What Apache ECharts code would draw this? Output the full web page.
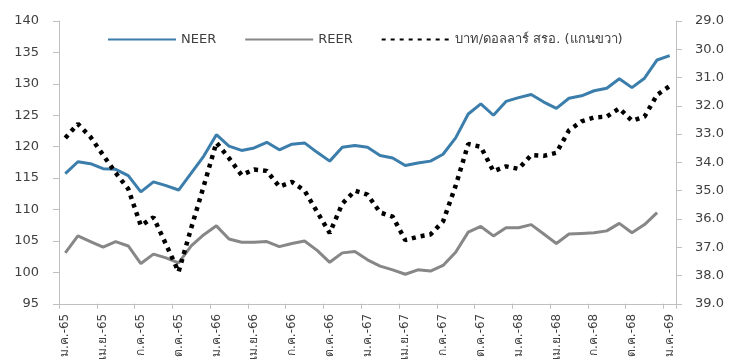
<!DOCTYPE html>
<html>
<head>
<meta charset="utf-8">
<script src="https://cdn.jsdelivr.net/npm/echarts@6/dist/echarts.min.js"></script>
<style>
  html, body { margin: 0; padding: 0; background: #ffffff; }
  #chart { width: 742px; height: 363px; }
</style>
</head>
<body>
<div id="chart"></div>
<script>
// Monthly labels, Jan 2565 .. Jan 2569 (Thai Buddhist years)
const monthNames = ['ม.ค.', 'ก.พ.', 'มี.ค.', 'เม.ย.', 'พ.ค.', 'มิ.ย.', 'ก.ค.', 'ส.ค.', 'ก.ย.', 'ต.ค.', 'พ.ย.', 'ธ.ค.'];
const years = ['65', '66', '67', '68', '69'];
const categories = [];
years.forEach(function (y, yi) {
  monthNames.forEach(function (m, mi) {
    if (yi < 4 || mi === 0) categories.push(m + '-' + y);
  });
});

// Nominal effective exchange rate index (left axis)
const neer = [115.7, 117.6, 117.3, 116.5, 116.4, 115.4, 112.8, 114.4, 113.8, 113.1, 115.8, 118.5,
              121.9, 120.1, 119.4, 119.8, 120.7, 119.5, 120.4, 120.6, 119.1, 117.7, 119.9, 120.2,
              119.9, 118.6, 118.2, 117.0, 117.4, 117.7, 118.8, 121.4, 125.2, 126.8, 125.0, 127.2,
              127.8, 128.3, 127.1, 126.1, 127.7, 128.1, 128.9, 129.3, 130.8, 129.4, 130.9, 133.8,
              134.5];

// Real effective exchange rate index (left axis)
const reer = [103.1, 105.8, 104.9, 104.0, 104.9, 104.2, 101.4, 102.9, 102.3, 101.5, 104.2, 106.0,
              107.4, 105.3, 104.8, 104.8, 104.9, 104.1, 104.6, 105.0, 103.5, 101.6, 103.1, 103.3,
              102.0, 101.0, 100.4, 99.7, 100.4, 100.2, 101.1, 103.2, 106.4, 107.3, 105.8, 107.1,
              107.1, 107.6, 106.1, 104.6, 106.1, 106.2, 106.3, 106.6, 107.8, 106.3, 107.6, 109.5];

// Baht per US dollar (right axis, inverted)
const thb = [33.14, 32.64, 33.10, 33.74, 34.37, 34.94, 36.24, 35.94, 36.90, 37.87, 36.32, 34.83,
             33.30, 33.85, 34.45, 34.25, 34.30, 34.86, 34.69, 35.00, 35.75, 36.50, 35.46, 35.00,
             35.14, 35.77, 35.92, 36.75, 36.63, 36.55, 36.09, 34.83, 33.35, 33.45, 34.31, 34.14,
             34.23, 33.74, 33.77, 33.66, 32.87, 32.55, 32.41, 32.38, 32.09, 32.53, 32.38, 31.61,
             31.30];

const leftTicks = { min: 95, max: 140, step: 5 };
const rightTicks = { min: 29, max: 39, step: 1 };

const fontFamily = '"DejaVu Sans", "Noto Sans", sans-serif';
const axisGrey = '#bfbfbf';
const textGrey = '#404040';

const chart = echarts.init(document.getElementById('chart'), null, { renderer: 'canvas' });

chart.setOption({
  animation: false,
  backgroundColor: '#ffffff',
  textStyle: { fontFamily: fontFamily },
  grid: { left: 59, right: 66, top: 21, bottom: 52, containLabel: false },
  legend: {
    left: 102,
    top: 28,
    itemWidth: 68,
    itemHeight: 14,
    itemGap: 28,
    itemStyle: { opacity: 0 },
    textStyle: { fontFamily: fontFamily, fontSize: 13, color: textGrey },
    data: ['NEER', 'REER', 'บาท/ดอลลาร์ สรอ. (แกนขวา)']
  },
  xAxis: {
    type: 'category',
    data: categories,
    boundaryGap: true,
    axisLine: { lineStyle: { color: axisGrey, width: 1 } },
    axisTick: { show: true, interval: 2, length: 5, lineStyle: { color: axisGrey } },
    axisLabel: {
      interval: 2,
      rotate: 90,
      margin: 10,
      fontSize: 12,
      color: textGrey,
      fontFamily: fontFamily
    },
    splitLine: { show: false }
  },
  yAxis: [
    {
      type: 'value',
      min: leftTicks.min,
      max: leftTicks.max,
      interval: leftTicks.step,
      position: 'left',
      axisLine: { show: true, lineStyle: { color: axisGrey } },
      axisTick: { show: true, length: 6, lineStyle: { color: axisGrey } },
      axisLabel: { margin: 20, fontSize: 13, color: textGrey, fontFamily: fontFamily },
      splitLine: { show: false }
    },
    {
      type: 'value',
      min: rightTicks.min,
      max: rightTicks.max,
      interval: rightTicks.step,
      inverse: true,
      position: 'right',
      axisLine: { show: true, lineStyle: { color: axisGrey } },
      axisTick: { show: true, length: 6, lineStyle: { color: axisGrey } },
      axisLabel: {
        margin: 19,
        fontSize: 13,
        color: textGrey,
        fontFamily: fontFamily,
        formatter: function (v) { return v.toFixed(1); }
      },
      splitLine: { show: false }
    }
  ],
  series: [
    {
      name: 'NEER',
      type: 'line',
      yAxisIndex: 0,
      data: neer,
      symbol: 'none',
      lineStyle: { color: '#3b7dab', width: 3 },
      itemStyle: { color: '#3b7dab' },
      z: 3
    },
    {
      name: 'REER',
      type: 'line',
      yAxisIndex: 0,
      data: reer,
      symbol: 'none',
      lineStyle: { color: '#878787', width: 3 },
      itemStyle: { color: '#878787' },
      z: 2
    },
    {
      name: 'บาท/ดอลลาร์ สรอ. (แกนขวา)',
      type: 'line',
      yAxisIndex: 1,
      data: thb,
      symbol: 'none',
      lineStyle: { color: '#000000', width: 4.5, type: [4, 5], cap: 'butt' },
      itemStyle: { color: '#000000' },
      z: 4
    }
  ]
});
</script>
</body>
</html>
